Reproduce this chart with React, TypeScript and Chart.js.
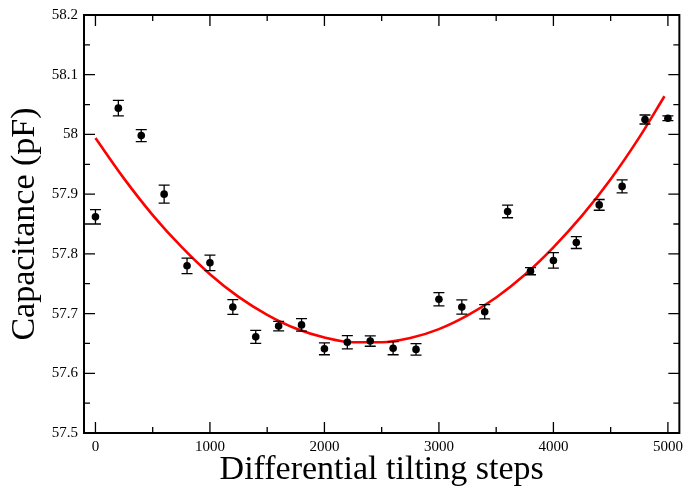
import React, { useEffect, useRef } from "react";
import { Chart, registerables } from "chart.js";

Chart.register(...registerables);

// Measured data points (differential tilting steps vs capacitance in pF)
const STEPS = [0, 200, 400, 600, 800, 1000, 1200, 1400, 1600, 1800, 2000, 2200, 2400, 2600, 2800, 3000, 3200, 3400, 3600, 3800, 4000, 4200, 4400, 4600, 4800, 5000];
const CAPACITANCE = [57.862, 58.044, 57.998, 57.900, 57.780, 57.785, 57.711, 57.661, 57.679, 57.681, 57.641, 57.652, 57.654, 57.642, 57.640, 57.724, 57.711, 57.703, 57.871, 57.771, 57.789, 57.819, 57.882, 57.913, 58.025, 58.027];
const ERRORS = [0.012, 0.013, 0.010, 0.015, 0.013, 0.013, 0.0125, 0.011, 0.008, 0.0105, 0.010, 0.011, 0.0087, 0.011, 0.0097, 0.011, 0.012, 0.012, 0.0105, 0.006, 0.013, 0.010, 0.009, 0.011, 0.0075, 0.004];

// Fitted curve (red)
const FIT_STEPS = [0, 250, 500, 750, 1000, 1250, 1500, 1750, 2000, 2250, 2500, 2750, 3000, 3250, 3500, 3750, 4000, 4250, 4500, 4750, 4970];
const FIT_VALUES = [57.994, 57.926, 57.865, 57.812, 57.766, 57.728, 57.698, 57.675, 57.660, 57.652, 57.652, 57.659, 57.674, 57.697, 57.727, 57.765, 57.811, 57.864, 57.925, 57.995, 58.064];

// Axis ticks
const X_TICKS = [0, 1000, 2000, 3000, 4000, 5000];
const X_MINOR = [500, 1500, 2500, 3500, 4500];
const Y_TICKS = [57.5, 57.6, 57.7, 57.8, 57.9, 58.0, 58.1, 58.2];
const Y_MINOR = [57.55, 57.65, 57.75, 57.85, 57.95, 58.05, 58.15];

const X_MIN = -100;
const X_MAX = 5100;
const Y_MIN = 57.5;
const Y_MAX = 58.2;

const FONT = "Liberation Serif";

Chart.defaults.font.family = FONT;
Chart.defaults.color = "#000";

const errorBarPlugin = {
  id: "errorBars",
  afterDatasetsDraw(chart: any) {
    const { ctx, scales } = chart;
    const x = scales.x;
    const y = scales.y;
    ctx.save();
    ctx.strokeStyle = "#000";
    ctx.lineWidth = 1.3;
    const cap = 5.5;
    ctx.beginPath();
    for (let i = 0; i < STEPS.length; i++) {
      const px = x.getPixelForValue(STEPS[i]);
      const top = y.getPixelForValue(CAPACITANCE[i] + ERRORS[i]);
      const bot = y.getPixelForValue(CAPACITANCE[i] - ERRORS[i]);
      ctx.moveTo(px, top);
      ctx.lineTo(px, bot);
      ctx.moveTo(px - cap, top);
      ctx.lineTo(px + cap, top);
      ctx.moveTo(px - cap, bot);
      ctx.lineTo(px + cap, bot);
    }
    ctx.stroke();
    ctx.restore();
  },
};

const framePlugin = {
  id: "frame",
  afterDraw(chart: any) {
    const { ctx, chartArea: a, scales } = chart;
    const x = scales.x;
    const y = scales.y;
    const major = 11;
    const minor = 6;
    ctx.save();
    ctx.strokeStyle = "#000";
    ctx.lineWidth = 1.3;
    ctx.beginPath();
    const xt = (vals: number[], len: number) => {
      for (const v of vals) {
        const px = x.getPixelForValue(v);
        ctx.moveTo(px, a.bottom);
        ctx.lineTo(px, a.bottom - len);
        ctx.moveTo(px, a.top);
        ctx.lineTo(px, a.top + len);
      }
    };
    const yt = (vals: number[], len: number) => {
      for (const v of vals) {
        const py = y.getPixelForValue(v);
        ctx.moveTo(a.left, py);
        ctx.lineTo(a.left + len, py);
        ctx.moveTo(a.right, py);
        ctx.lineTo(a.right - len, py);
      }
    };
    xt(X_TICKS, major);
    xt(X_MINOR, minor);
    yt(Y_TICKS, major);
    yt(Y_MINOR, minor);
    ctx.stroke();
    ctx.lineWidth = 2;
    ctx.strokeRect(a.left, a.top, a.right - a.left, a.bottom - a.top);
    ctx.restore();
  },
};

export default function App() {
  const ref = useRef<HTMLCanvasElement>(null);

  useEffect(() => {
    document.body.style.margin = "0";
    const points = STEPS.map((s, i) => ({ x: s, y: CAPACITANCE[i] }));
    const fit = FIT_STEPS.map((s, i) => ({ x: s, y: FIT_VALUES[i] }));
    const tickFont = { family: FONT, size: 15, style: "normal", weight: "normal", lineHeight: 1.2 };
    const titleFont = { family: FONT, size: 34, style: "normal", weight: "normal", lineHeight: 1 };
    const chart = new Chart(ref.current as HTMLCanvasElement, {
      type: "scatter",
      data: {
        datasets: [
          {
            label: "data",
            data: points,
            order: 0,
            pointRadius: 3.8,
            pointBackgroundColor: "#000",
            pointBorderColor: "#000",
            pointBorderWidth: 0,
            showLine: false,
          },
          {
            label: "fit",
            data: fit,
            order: 1,
            showLine: true,
            borderColor: "#ff0000",
            borderWidth: 2.6,
            pointRadius: 0,
            tension: 0.4,
            cubicInterpolationMode: "monotone",
          },
        ],
      },
      options: {
        responsive: false,
        animation: false,
        events: [],
        font: { family: FONT },
        layout: { padding: { top: 14, right: 5, left: 0, bottom: 0 } },
        plugins: {
          legend: { display: false },
          tooltip: { enabled: false },
        },
        scales: {
          x: {
            type: "linear",
            min: X_MIN,
            max: X_MAX,
            grid: { display: false, drawTicks: false },
            border: { display: false },
            afterBuildTicks: (s: any) => {
              s.ticks = X_TICKS.map((v) => ({ value: v }));
            },
            afterFit: (s: any) => {
              s.height = 54;
            },
            ticks: {
              color: "#000",
              font: tickFont,
              padding: 5,
              autoSkip: false,
              maxRotation: 0,
              callback: (v: any) => String(v),
            },
            title: {
              display: true,
              text: "Differential tilting steps",
              color: "#000",
              font: titleFont,
              padding: { top: 0, bottom: 0 },
            },
          },
          y: {
            type: "linear",
            min: Y_MIN,
            max: Y_MAX,
            grid: { display: false, drawTicks: false },
            border: { display: false },
            afterBuildTicks: (s: any) => {
              s.ticks = Y_TICKS.map((v) => ({ value: v }));
            },
            afterFit: (s: any) => {
              s.width = 84;
            },
            ticks: {
              color: "#000",
              font: tickFont,
              padding: 6,
              callback: (v: any) => String(Number(Number(v).toFixed(1))),
            },
            title: {
              display: true,
              text: "Capacitance (pF)",
              color: "#000",
              font: titleFont,
              padding: { top: 8, bottom: 0 },
            },
          },
        },
      },
      plugins: [errorBarPlugin, framePlugin],
    } as any);
    return () => chart.destroy();
  }, []);

  return (
    <div style={{ width: 688, height: 487 }}>
      <canvas ref={ref} width={688} height={487} style={{ display: "block" }} />
    </div>
  );
}
